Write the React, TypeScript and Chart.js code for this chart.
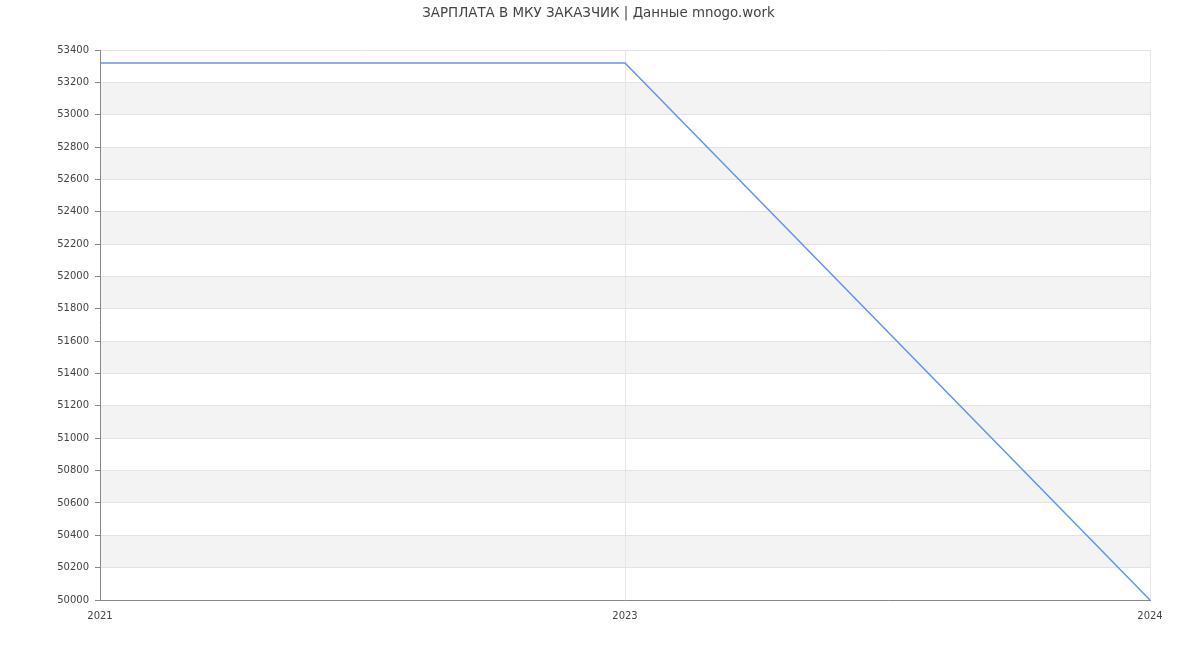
import React, { useEffect, useRef } from "react";
import { Chart, registerables } from "chart.js";

Chart.register(...registerables);

const TITLE = "ЗАРПЛАТА В МКУ ЗАКАЗЧИК | Данные mnogo.work";
const years = ["2021", "2023", "2024"];
const salaries = [53320, 53320, 50000];
const yMin = 50000;
const yMax = 53400;
const yStep = 200;

const bandPlugin = {
  id: "bands",
  beforeDraw(chart: any) {
    const { ctx, chartArea, scales } = chart;
    const y = scales.y;
    const ticks = y.ticks;
    ctx.save();
    ctx.fillStyle = "#f3f3f3";
    for (let i = 0; i < ticks.length - 1; i++) {
      if (i % 2 === 1) {
        const y0 = y.getPixelForValue(ticks[i].value);
        const y1 = y.getPixelForValue(ticks[i + 1].value);
        ctx.fillRect(chartArea.left, y1, chartArea.right - chartArea.left, y0 - y1);
      }
    }
    ctx.restore();
  },
};

const titlePlugin = {
  id: "customTitle",
  afterDraw(chart: any) {
    const { ctx } = chart;
    ctx.save();
    ctx.fillStyle = "#444";
    ctx.font = "13.4px 'DejaVu Sans'";
    ctx.textAlign = "center";
    ctx.textBaseline = "alphabetic";
    ctx.fillText(TITLE, 598.5, 17);
    ctx.restore();
  },
};

export default function App() {
  const ref = useRef<HTMLCanvasElement | null>(null);
  useEffect(() => {
    if (!ref.current) return;
    const chart = new Chart(ref.current, {
      type: "line",
      data: {
        labels: years,
        datasets: [
          {
            data: salaries,
            borderColor: "rgb(100,149,237)",
            borderWidth: 1.5,
            pointRadius: 0,
            fill: false,
            tension: 0,
          },
        ],
      },
      options: {
        animation: false,
        responsive: true,
        maintainAspectRatio: false,
        layout: { padding: { left: 0, right: 50, top: 50, bottom: 0 } },
        plugins: {
          legend: { display: false },
          tooltip: { enabled: false },
          title: { display: false },
        },
        scales: {
          x: {
            type: "category",
            offset: false,
            grid: { color: "#e6e6e6", drawTicks: false },
            border: { color: "#888" },
            ticks: {
              color: "#444",
              font: { family: "DejaVu Sans", size: 10 },
              padding: 10,
              maxRotation: 0,
            },
            afterFit(scale: any) {
              scale.height = 50;
            },
          },
          y: {
            min: yMin,
            max: yMax,
            grid: { color: "#e3e3e3", tickColor: "#888", tickLength: 5 },
            border: { color: "#888" },
            ticks: {
              stepSize: yStep,
              color: "#444",
              font: { family: "DejaVu Sans", size: 10 },
              padding: 6,
              callback: (v: any) => String(v),
            },
            afterFit(scale: any) {
              scale.width = 100;
            },
          },
        },
      },
      plugins: [bandPlugin, titlePlugin],
    });
    return () => chart.destroy();
  }, []);
  return (
    <div style={{ position: "absolute", left: 0, top: 0, width: 1200, height: 650 }}>
      <canvas ref={ref} />
    </div>
  );
}
